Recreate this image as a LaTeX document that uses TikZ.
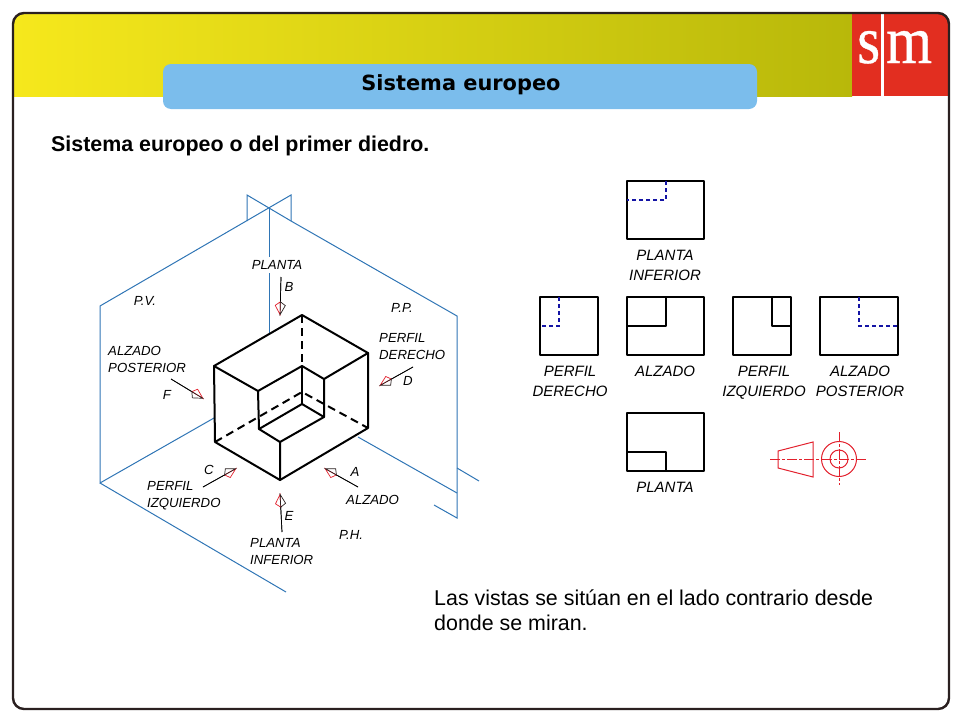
\documentclass[tikz,border=0pt]{standalone}
\usepackage{fontspec}
\usepackage{graphicx}
\setmainfont{Liberation Sans}
\newfontfamily\titlefont{DejaVu Sans}
\newfontfamily\logofont[FakeBold=0.6]{Liberation Serif}
\usetikzlibrary{arrows.meta}
\definecolor{bandyellow}{RGB}{246,232,28}
\definecolor{bandmid}{RGB}{216,208,20}
\definecolor{bandolive}{RGB}{184,184,10}
\definecolor{logored}{RGB}{226,46,32}
\definecolor{titleblue}{RGB}{123,189,236}
\definecolor{planeblue}{RGB}{47,117,181}
\definecolor{hiddenblue}{RGB}{20,20,165}
\definecolor{symbolred}{RGB}{226,32,44}
\definecolor{framedark}{RGB}{42,32,32}
\tikzset{
  planelin/.style={draw=planeblue,line width=1pt},
  boxlin/.style={line width=2pt,line join=round,line cap=round},
  hidlin/.style={line width=2pt,dash pattern=on 8pt off 5pt},
  viewlin/.style={line width=2pt,line join=round},
  viewhid/.style={draw=hiddenblue,line width=2pt,dash pattern=on 4pt off 3pt},
  symlin/.style={draw=symbolred,line width=1pt},
  symaxis/.style={draw=symbolred,line width=1pt,dash pattern=on 10pt off 2pt on 3pt off 2pt},
  redleft/.style={line width=0.7pt,-{Kite[open,harpoon,color=symbolred,length=14pt,width=11pt,inset=4pt]},
    postaction={draw,-{Kite[open,harpoon,swap,color=framedark,length=14pt,width=11pt,inset=4pt]}}},
  redright/.style={line width=0.7pt,-{Kite[open,harpoon,swap,color=symbolred,length=14pt,width=11pt,inset=4pt]},
    postaction={draw,-{Kite[open,harpoon,color=framedark,length=14pt,width=11pt,inset=4pt]}}},
  isolabel/.style={font=\fontsize{13.2}{17}\selectfont\itshape,align=left,inner sep=0pt},
  viewlabel/.style={font=\fontsize{15}{20}\selectfont\itshape,align=center,inner sep=0pt},
  headtext/.style={font=\fontsize{21.4}{25}\selectfont,align=left,inner sep=0pt,anchor=west}
}
\begin{document}
\begin{tikzpicture}[x=1pt,y=-1pt]
    \useasboundingbox (0,0) rectangle (960,720);
    % band and logo
    \begin{scope}
        \clip[rounded corners=11pt] (13,13) rectangle (949,709);
        \shade[left color=bandyellow,middle color=bandmid,right color=bandolive] (13,13) rectangle (852,96);
        \fill[logored] (852,13) rectangle (949,96);
        \fill[white] (881,13) rectangle (884,96);
    \end{scope}
    \draw[framedark,line width=2.4pt,rounded corners=11pt] (13,13) rectangle (949,709);
    \node[inner sep=0pt,text=white,font=\fontsize{59}{59}\selectfont\logofont,anchor=base west] (logos) at (857,63) {\scalebox{1}[1.15]{s}};
    \node[inner sep=0pt,text=white,font=\fontsize{59}{59}\selectfont\logofont,anchor=base west] (logom) at (886,63) {\scalebox{1}[1.15]{m}};
    \fill[titleblue,rounded corners=8pt] (163,64) rectangle (757,109);
    \node[inner sep=0pt,font=\fontsize{20.9}{21}\selectfont\titlefont\bfseries] (title) at (461,85) {Sistema europeo};
    \node[headtext,font=\fontsize{21.4}{25}\selectfont\bfseries] (heading) at (51,146) {Sistema europeo o del primer diedro.};
    \node[headtext,anchor=north west] (note) at (434,590) {Las vistas se sitúan en el lado contrario desde\\donde se miran.};

    % reference planes
    \draw[planelin] (247,221) -- (247,195) -- (291,221) -- (457,316) -- (457,518) -- (434,505);
    \draw[planelin] (291,221) -- (291,195) -- (100,306) -- (100,483) -- (214,418);
    \draw[planelin] (100,483) -- (286,592);
    \draw[planelin] (269,208) -- (269,334);
    \draw[planelin] (358,437) -- (457,493);
    \draw[planelin] (457,468) -- (479,481);

    % solid
    \draw[boxlin] (214,366) -- (302,315) -- (368,353) -- (324,379) -- (302,366) -- (258,391) -- cycle;
    \draw[boxlin] (214,366) -- (215,442) -- (280,480) -- (368,428) -- (368,353);
    \draw[boxlin] (258,391) -- (259,429) -- (280,442) -- (280,480);
    \draw[boxlin] (280,442) -- (324,417) -- (324,379);
    \draw[boxlin] (324,417) -- (302,404) -- (259,429);
    \draw[boxlin] (302,366) -- (302,404);
    \draw[hidlin] (302,315) -- (302,366);
    \draw[hidlin] (215,442) -- (302,392) -- (368,428);

    % viewing arrows
    \coordinate (bstart) at (281,277);
    \coordinate (btip) at (280,316);
    \coordinate (fstart) at (171,379);
    \coordinate (ftip) at (204,399);
    \coordinate (dstart) at (413,367);
    \coordinate (dtip) at (379,386);
    \coordinate (cstart) at (203,487);
    \coordinate (ctip) at (237,468);
    \coordinate (estart) at (282,532);
    \coordinate (etip) at (280,493);
    \coordinate (astart) at (358,487);
    \coordinate (atip) at (324,468);
    \draw[redright] (bstart) -- (btip);
    \draw[redleft] (fstart) -- (ftip);
    \draw[redright] (dstart) -- (dtip);
    \draw[redright] (cstart) -- (ctip);
    \draw[redleft] (estart) -- (etip);
    \draw[redleft] (astart) -- (atip);

    % labels of the solid
    \node[isolabel,fill=white,inner xsep=1pt,inner ysep=3pt] (lplanta) at (277,265) {PLANTA};
    \node[isolabel] (lb) at (289,287) {B};
    \node[isolabel] (lpv) at (145,301) {P.V.};
    \node[isolabel] (lpp) at (402,308) {P.P.};
    \node[isolabel,anchor=west] (lpd) at (379,347) {PERFIL\\DERECHO};
    \node[isolabel] (ld) at (408,381) {D};
    \node[isolabel,anchor=west] (lap) at (108,359.5) {ALZADO\\POSTERIOR};
    \node[isolabel] (lf) at (167,395) {F};
    \node[isolabel] (lc) at (209,470) {C};
    \node[isolabel,anchor=west] (lpi) at (147,496) {PERFIL\\IZQUIERDO};
    \node[isolabel] (la) at (355,472) {A};
    \node[isolabel,anchor=west] (lalz) at (346,500) {ALZADO};
    \node[isolabel] (le) at (289,516) {E};
    \node[isolabel] (lph) at (351,535) {P.H.};
    \node[isolabel,anchor=west] (lpinf) at (250,551.5) {PLANTA\\INFERIOR};

    % views
    \draw[viewlin] (627,181) rectangle (704,239);
    \draw[viewhid] (666,181) -- (666,200) -- (627,200);
    \draw[viewlin] (540,297) rectangle (598,355);
    \draw[viewhid] (559,297) -- (559,326) -- (540,326);
    \draw[viewlin] (627,297) rectangle (704,355);
    \draw[viewlin] (666,297) -- (666,326) -- (627,326);
    \draw[viewlin] (733,297) rectangle (791,355);
    \draw[viewlin] (772,297) -- (772,326) -- (791,326);
    \draw[viewlin] (820,297) rectangle (898,355);
    \draw[viewhid] (859,297) -- (859,326) -- (898,326);
    \draw[viewlin] (627,413) rectangle (704,471);
    \draw[viewlin] (627,452) -- (666,452) -- (666,471);
    \node[viewlabel] (vpinf) at (665,265) {PLANTA\\INFERIOR};
    \node[viewlabel] (vpd) at (570,381) {PERFIL\\DERECHO};
    \node[viewlabel] (valz) at (665,371) {ALZADO};
    \node[viewlabel] (vpi) at (764,383) {PERFIL\\IZQUIERDO};
    \node[viewlabel] (vap) at (860,381) {ALZADO\\POSTERIOR};
    \node[viewlabel] (vpl) at (665,487) {PLANTA};

    % projection symbol
    \draw[symlin] (778,451) -- (813,442) -- (813,477) -- (778,468) -- cycle;
    \draw[symaxis] (770,459) -- (820,459);
    \draw[symlin] (839,459) circle (17.5);
    \draw[symlin] (839,459) circle (9);
    \draw[symaxis] (822,459) -- (866,459);
    \draw[symaxis] (839,432) -- (839,485);
\end{tikzpicture}
\end{document}
